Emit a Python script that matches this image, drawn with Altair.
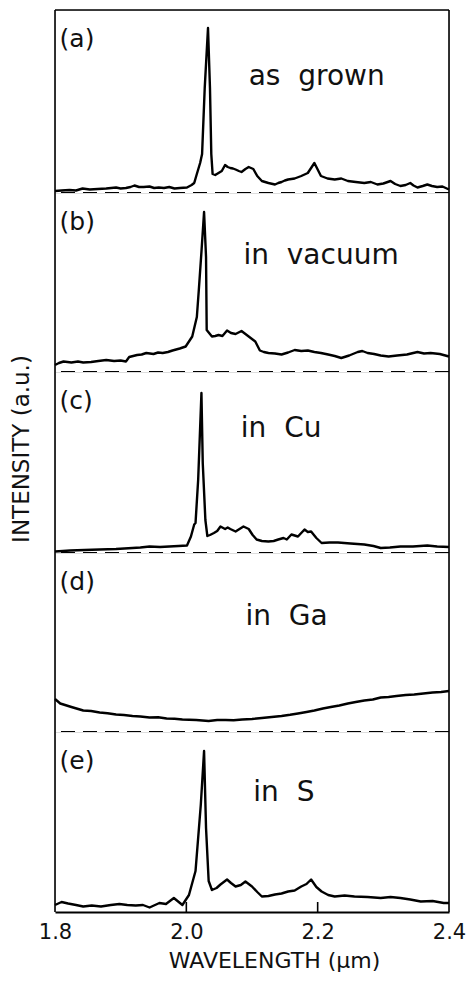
import altair as alt
import pandas as pd

# (wavelength um, intensity a.u.)
spec_a = [(1.800,2),(1.810,2.5),(1.822,3),(1.832,2.5),(1.842,4.5),(1.853,3.5),(1.865,4),(1.878,4.5),
          (1.893,5.5),(1.900,4.5),(1.908,5),(1.915,6),(1.921,7.5),(1.928,6),(1.935,6),(1.944,6.5),
          (1.951,5),(1.958,5.5),(1.966,5),(1.974,6),(1.982,4.5),(1.990,5),(2.001,5.5),(2.008,8),
          (2.012,10),(2.016,19),(2.021,30),(2.024,39),(2.028,105),(2.033,165),(2.036,105),(2.038,39),
          (2.040,19),(2.044,18),(2.049,20),(2.054,22),(2.059,28),(2.063,26),(2.067,25),(2.071,24.5),
          (2.075,23.5),(2.080,22),(2.084,21),(2.090,24),(2.095,26),(2.102,24),(2.108,17),(2.115,12),
          (2.125,10),(2.135,8.5),(2.140,10),(2.145,11),(2.150,12.5),(2.155,13.5),(2.165,14.5),
          (2.175,17),(2.185,20),(2.195,30),(2.205,17),(2.215,14.5),(2.226,13.5),(2.236,14.5),
          (2.246,12),(2.258,11),(2.271,10),(2.281,11),(2.291,8.5),(2.300,9.5),(2.311,12),(2.318,9),
          (2.326,7),(2.334,8),(2.341,10),(2.346,7.5),(2.352,5.5),(2.360,7),(2.367,8.5),(2.374,7),
          (2.382,6),(2.390,6.5),(2.400,3.5)]
spec_b = [(1.800,7),(1.806,9),(1.813,10.5),(1.825,9.5),(1.835,10.5),(1.843,9.5),(1.855,10),
          (1.866,11),(1.878,12),(1.890,11),(1.900,11.5),(1.908,10.5),(1.913,15),(1.925,17),(1.932,17.5),
          (1.939,19),(1.950,18),(1.957,19.5),(1.964,19),(1.972,20),(1.979,21.5),(1.990,23.5),
          (1.999,25.5),(2.009,35.5),(2.016,55),(2.019,82),(2.023,120),(2.027,160),(2.030,115),
          (2.031,42),(2.039,35.5),(2.044,36),(2.049,37),(2.055,36),(2.062,41.5),(2.068,39),
          (2.075,38),(2.084,41),(2.090,38),(2.095,35.5),(2.105,30.5),(2.112,21.5),(2.118,20),
          (2.125,19),(2.135,18.5),(2.145,17.5),(2.155,19.5),(2.165,22),(2.175,21),(2.185,21.5),
          (2.195,20),(2.205,19),(2.216,17.5),(2.226,16),(2.236,14),(2.248,16.5),(2.261,20),
          (2.268,21),(2.276,19),(2.286,18),(2.296,16.5),(2.308,15.5),(2.321,16.5),(2.336,17.5),
          (2.352,20),(2.362,18.5),(2.372,19),(2.386,18),(2.400,15.5)]
spec_c = [(1.800,1.5),(1.812,2),(1.823,2.5),(1.845,3),(1.868,3.5),(1.893,4),(1.918,5),(1.930,5.5),
          (1.944,6.5),(1.960,6),(1.974,6.5),(1.988,7),(2.001,7.5),(2.007,16.5),(2.012,28.5),
          (2.014,30),(2.018,73),(2.023,160),(2.025,90),(2.029,33),(2.032,17),(2.036,18),(2.042,20),
          (2.047,22),(2.052,26.5),(2.059,24),(2.063,25.5),(2.067,24),(2.075,21.5),(2.081,24),
          (2.087,26.5),(2.095,24),(2.101,18),(2.107,13.5),(2.115,12),(2.125,11.5),(2.133,12),
          (2.140,13.5),(2.148,15),(2.153,13.5),(2.160,18.5),(2.170,16.5),(2.180,23.5),(2.185,21),
          (2.190,21.5),(2.198,15),(2.206,10),(2.218,10.5),(2.231,10.5),(2.250,9.5),(2.271,8.5),
          (2.285,7),(2.296,5),(2.310,5.5),(2.326,6.5),(2.345,6.5),(2.367,7.5),(2.382,6.5),(2.400,6)]
spec_d = [(1.800,33),(1.808,28.5),(1.825,25),(1.843,21.5),(1.855,21),(1.868,19.5),(1.880,18.8),
          (1.893,17.5),(1.905,17),(1.918,16),(1.930,15.5),(1.944,14.5),(1.957,14.8),(1.970,13.5),
          (1.982,13.2),(1.994,12.5),(2.015,12),(2.034,11),(2.047,12),(2.060,12),(2.072,11.8),
          (2.085,12.5),(2.100,13),(2.115,14),(2.130,15),(2.145,16),(2.158,17.2),(2.170,18.5),
          (2.183,20),(2.195,21.5),(2.208,23.5),(2.220,25),(2.233,26.5),(2.246,28.5),(2.258,30),
          (2.271,31.5),(2.284,32.5),(2.296,34.5),(2.308,35),(2.320,36),(2.334,37),(2.347,37.5),
          (2.361,38.5),(2.375,39.5),(2.388,40),(2.400,41)]
spec_e = [(1.800,7),(1.810,10),(1.820,8.5),(1.832,7),(1.843,5.5),(1.856,6.5),(1.870,5.5),
          (1.885,7),(1.898,8),(1.910,7),(1.923,6.5),(1.934,7),(1.944,4.5),(1.959,9),(1.969,8),
          (1.981,14),(1.994,7),(2.004,17),(2.014,41),(2.022,107),(2.027,161),(2.030,84),(2.034,31),
          (2.039,22),(2.046,24),(2.052,27.5),(2.062,32.5),(2.068,29),(2.075,25.5),(2.083,27),
          (2.090,30.5),(2.100,25.5),(2.108,20),(2.115,15.5),(2.125,16),(2.135,17.5),(2.145,18.5),
          (2.155,20.5),(2.165,21.5),(2.175,25.5),(2.183,28),(2.190,32.5),(2.198,25),(2.206,20.5),
          (2.216,17),(2.226,15.5),(2.241,16.5),(2.256,15.5),(2.276,15),(2.296,14),(2.311,15),
          (2.326,14),(2.341,12.5),(2.357,10.5),(2.375,11),(2.392,9),(2.400,9)]

panel_labels = ["(a)", "(b)", "(c)", "(d)", "(e)"]
conditions = ["as\u00a0 grown", "in\u00a0 vacuum", "in\u00a0 Cu", "in\u00a0 Ga", "in\u00a0 S"]
cond_x = [2.095, 2.087, 2.083, 2.090, 2.102]
cond_below_top = [75, 71, 65, 72, 69]
panel_tops = [183, 179, 181, 179, 180]
x_ticks = [1.8, 2.0, 2.2, 2.4]
x_range = [1.8, 2.4]
inner_ticks = [2.0, 2.2]

FONT = "DejaVu Sans"
W = 394
XT = "WAVELENGTH (\u03bcm)"
YT = "INTENSITY (a.u.)"
specs = [spec_a, spec_b, spec_c, spec_d, spec_e]

charts = []
for i, spec in enumerate(specs):
    top = panel_tops[i]
    last = i == len(specs) - 1
    df = pd.DataFrame(spec, columns=["wl", "I"])
    xs = alt.Scale(domain=x_range, nice=False, zero=False)
    ys = alt.Scale(domain=[0, top], nice=False, zero=False)
    if last:
        xaxis = alt.Axis(values=x_ticks, format=".1f", ticks=False, grid=False,
                         labelFontSize=21, labelPadding=9, labelFlush=False,
                         labelColor="#111", domainColor="black", domainWidth=2,
                         title=XT, titleFontSize=22, titleFontWeight="normal",
                         titleColor="#111", titlePadding=8, titleX=219)
    else:
        xaxis = None

    def X(field):
        return alt.X(field, title=XT) if last else alt.X(field, axis=None)

    def Y(field):
        return alt.Y(field, axis=None)

    line = alt.Chart(df).mark_line(color="black", strokeWidth=2.4, strokeJoin="round").encode(
        x=alt.X("wl:Q", scale=xs, axis=xaxis, title=XT),
        y=alt.Y("I:Q", scale=ys, axis=None),
    )
    layers = [line]
    fdf = pd.DataFrame({"fx": x_range})
    layers.append(alt.Chart(fdf).mark_rule(color="black", strokeWidth=1.6).encode(
        x=X("fx:Q")))
    if not last:
        bdf = pd.DataFrame({"hy": [0]})
        layers.append(alt.Chart(bdf).mark_rule(color="black", strokeWidth=2,
                                               strokeDash=[14, 8]).encode(y=Y("hy:Q")))
    else:
        tdf = pd.DataFrame({"t": inner_ticks})
        layers.append(alt.Chart(tdf).mark_rule(color="black", strokeWidth=1.6).encode(
            x=X("t:Q"), y=alt.value(top), y2=alt.value(top - 10)))
    if i == 0:
        tpdf = pd.DataFrame({"hy": [top]})
        layers.append(alt.Chart(tpdf).mark_rule(color="black", strokeWidth=1.6).encode(
            y=Y("hy:Q")))
    lab = pd.DataFrame({"lab": [panel_labels[i]], "cond": [conditions[i]],
                        "lx": [1.807], "ly": [top - 29],
                        "cx": [cond_x[i]], "cy": [top - cond_below_top[i]]})
    layers.append(alt.Chart(lab).mark_text(align="left", baseline="middle", fontSize=25,
                                           font=FONT, color="#111").encode(
        x=X("lx:Q"), y=Y("ly:Q"), text="lab:N"))
    layers.append(alt.Chart(lab).mark_text(align="left", baseline="alphabetic", fontSize=28,
                                           font=FONT, color="#111").encode(
        x=X("cx:Q"), y=Y("cy:Q"), text="cond:N"))
    if i == 2:
        ydf = pd.DataFrame({"yt": [YT]})
        layers.append(alt.Chart(ydf).mark_text(angle=270, align="center", baseline="middle",
                                               fontSize=23, font=FONT, color="#111").encode(
            x=alt.value(-33), y=alt.value(77), text="yt:N"))
    charts.append(alt.layer(*layers).properties(width=W, height=top))

chart = alt.vconcat(*charts, spacing=0, bounds="flush").properties(
    padding={"left": 2, "top": 0, "right": 0, "bottom": 0}
).configure_view(stroke=None).configure(font=FONT)

chart.save("out.html", embed_options={"renderer": "svg", "actions": False})
